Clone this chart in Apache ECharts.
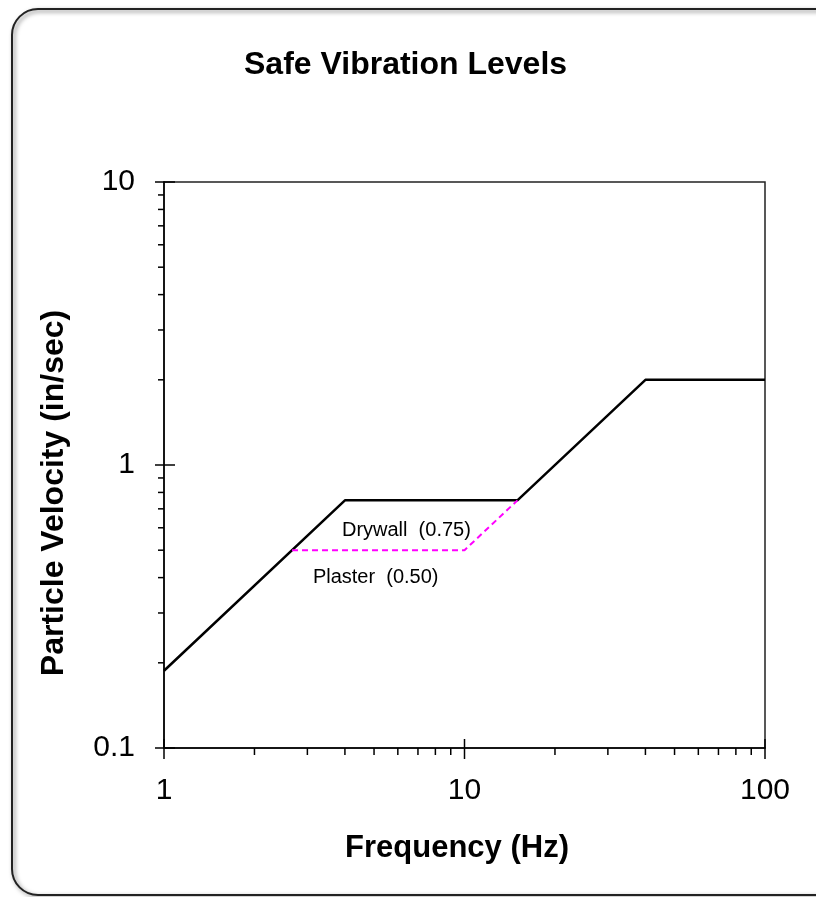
<!DOCTYPE html>
<html>
<head>
<meta charset="utf-8">
<script src="https://cdn.jsdelivr.net/npm/echarts@6/dist/echarts.min.js"></script>
<style>
html, body { margin: 0; padding: 0; background: #fff; }
#main { width: 816px; height: 897px; }
</style>
</head>
<body>
<div id="main"></div>
<script>
// 安全振动等级 - 数据
var safeLine = [[1, 0.1875], [4, 0.75], [15, 0.75], [40, 2], [100, 2]];
var plasterLine = [[2.667, 0.5], [10, 0.5], [15, 0.75]];
var xMinorTicks = [2, 3, 4, 5, 6, 7, 8, 9, 20, 30, 40, 50, 60, 70, 80, 90];
var yMinorTicks = [0.2, 0.3, 0.4, 0.5, 0.6, 0.7, 0.8, 0.9, 2, 3, 4, 5, 6, 7, 8, 9];
var xMajorTicks = [1, 10, 100];
var yMajorTicks = [0.1, 1, 10];
var notes = [
    {name: 'Drywall  (0.75)', value: [3.91, 0.585]},
    {name: 'Plaster  (0.50)', value: [3.13, 0.402]}
];

var font = "'Liberation Sans', Arial, sans-serif";
var myChart = echarts.init(document.getElementById('main'));

// 刻度: x轴和y轴, 主刻度穿过轴线, 次刻度在外侧
var tickData = [];
xMinorTicks.forEach(function (v) { tickData.push({value: [v, 0.1], axis: 'x', major: false}); });
xMajorTicks.forEach(function (v) { tickData.push({value: [v, 0.1], axis: 'x', major: true}); });
yMinorTicks.forEach(function (v) { tickData.push({value: [1, v], axis: 'y', major: false}); });
yMajorTicks.forEach(function (v) { tickData.push({value: [1, v], axis: 'y', major: true}); });

option = {
    animation: false,
    title: {
        text: 'Safe Vibration Levels',
        left: 239,
        top: 44,
        textStyle: {
            fontFamily: font,
            fontSize: 32,
            fontWeight: 'bold',
            color: '#000'
        }
    },
    graphic: [
        {
            type: 'rect',
            shape: {x: 12, y: 9, width: 830, height: 886, r: 26},
            style: {
                fill: 'none',
                stroke: '#222',
                lineWidth: 2,
                shadowBlur: 4,
                shadowOffsetX: 2,
                shadowOffsetY: 2,
                shadowColor: 'rgba(0,0,0,0.5)'
            },
            z: -1
        }
    ],
    grid: {
        left: 164,
        right: 51,
        top: 182,
        bottom: 149,
        show: true,
        borderColor: '#222',
        borderWidth: 1.5,
        backgroundColor: '#fff'
    },
    xAxis: {
        type: 'log',
        logBase: 10,
        min: 1,
        max: 100,
        name: 'Frequency (Hz)',
        nameLocation: 'middle',
        nameGap: 85,
        nameTextStyle: {
            fontFamily: font,
            fontSize: 31,
            fontWeight: 'bold',
            color: '#000',
            padding: [0, 15, 0, 0]
        },
        axisLine: {lineStyle: {color: '#000', width: 1.5}},
        axisTick: {show: false},
        splitLine: {show: false},
        axisLabel: {
            fontFamily: font,
            fontSize: 30,
            color: '#000',
            margin: 28
        }
    },
    yAxis: {
        type: 'log',
        logBase: 10,
        min: 0.1,
        max: 10,
        name: 'Particle Velocity (in/sec)',
        nameLocation: 'middle',
        nameGap: 94,
        nameTextStyle: {
            fontFamily: font,
            fontSize: 32,
            fontWeight: 'bold',
            color: '#000',
            padding: [0, 56, 0, 0]
        },
        axisLine: {lineStyle: {color: '#000', width: 1.5}},
        axisTick: {show: false},
        splitLine: {show: false},
        axisLabel: {
            fontFamily: font,
            fontSize: 30,
            color: '#000',
            margin: 29,
            formatter: function (v) { return String(+v.toPrecision(3)); }
        }
    },
    series: [
        {
            name: 'ticks',
            type: 'custom',
            clip: false,
            silent: true,
            data: tickData,
            renderItem: function (params, api) {
                var item = tickData[params.dataIndex];
                var p = api.coord(item.value);
                var shape;
                if (item.axis === 'x') {
                    shape = item.major ? {x1: p[0], y1: p[1] - 9, x2: p[0], y2: p[1] + 11}
                                       : {x1: p[0], y1: p[1], x2: p[0], y2: p[1] + 7};
                } else {
                    shape = item.major ? {x1: p[0] - 9, y1: p[1], x2: p[0] + 11, y2: p[1]}
                                       : {x1: p[0] - 6, y1: p[1], x2: p[0], y2: p[1]};
                }
                return {
                    type: 'line',
                    shape: shape,
                    style: {stroke: '#000', lineWidth: 1.5}
                };
            }
        },
        {
            name: 'Drywall',
            type: 'line',
            data: safeLine,
            symbol: 'none',
            lineStyle: {color: '#000', width: 2.5},
            z: 3
        },
        {
            name: 'Plaster',
            type: 'line',
            data: plasterLine,
            symbol: 'none',
            lineStyle: {color: '#ff00ff', width: 2, type: [6, 4]},
            z: 4
        },
        {
            name: 'notes',
            type: 'custom',
            clip: false,
            silent: true,
            data: notes,
            renderItem: function (params, api) {
                var p = api.coord([api.value(0), api.value(1)]);
                return {
                    type: 'text',
                    x: p[0],
                    y: p[1],
                    style: {
                        text: notes[params.dataIndex].name,
                        fontFamily: font,
                        fontSize: 20,
                        fill: '#000',
                        textAlign: 'left',
                        textVerticalAlign: 'middle'
                    }
                };
            }
        }
    ]
};

myChart.setOption(option);
</script>
</body>
</html>
